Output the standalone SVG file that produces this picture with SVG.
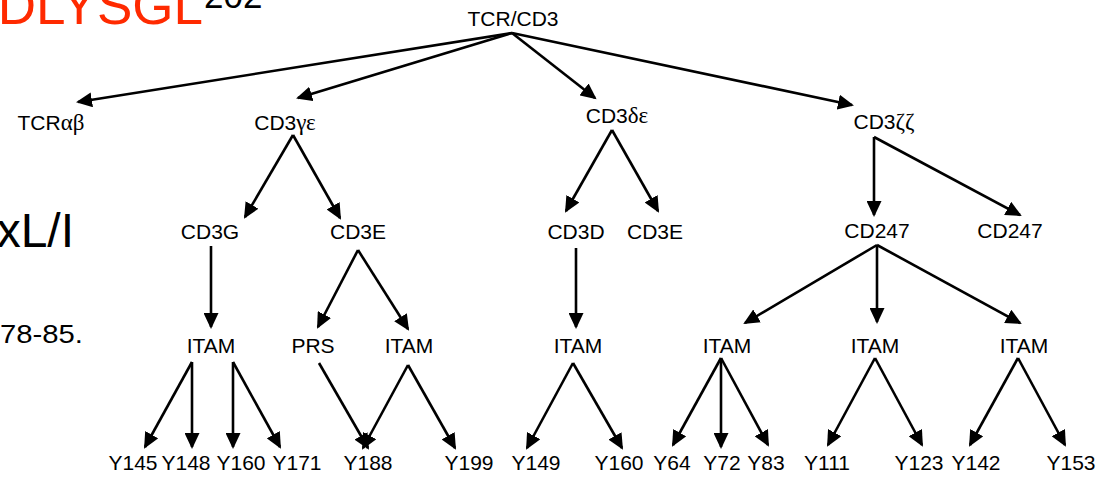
<svg xmlns="http://www.w3.org/2000/svg" width="1110" height="479" viewBox="0 0 1110 479">
  <style>
    .lbl { font-family: "Liberation Sans", Arial, Helvetica, sans-serif; font-size: 21px; fill: #000; text-anchor: middle; }
    .gr { font-family: "Liberation Serif", "Times New Roman", serif; font-size: 23px; }
    .edge { stroke: #000; stroke-width: 2.6; fill: none; marker-end: url(#arrow); }
    .side { font-family: "Liberation Sans", Arial, Helvetica, sans-serif; fill: #000; text-anchor: end; }
  </style>
  <defs>
    <marker id="arrow" markerUnits="userSpaceOnUse" markerWidth="17" markerHeight="15" refX="14" refY="7.5" orient="auto">
      <path d="M0,0 L16,7.5 L0,15 Z" fill="#000"/>
    </marker>
  </defs>

  <rect x="0" y="0" width="1110" height="479" fill="#fff"/>

  <!-- margin fragments -->
  <g id="margin-text">
    <text class="side" x="203" y="24" font-size="53" style="fill:#ff2a00">DLYSGL</text>
    <text class="side" x="204" y="8" font-size="35" style="text-anchor:start">202</text>
    <text class="side" x="74" y="247" font-size="48">xL/I</text>
    <text class="side" x="0" y="343" font-size="25" style="text-anchor:start" textLength="83" lengthAdjust="spacingAndGlyphs">78-85.</text>
  </g>

  <!-- connectors -->
  <g id="connectors">
    <!-- TCR/CD3 -->
    <line class="edge" x1="512" y1="33" x2="78" y2="102"/>
    <line class="edge" x1="512" y1="33" x2="298" y2="98"/>
    <line class="edge" x1="512" y1="33" x2="595" y2="98"/>
    <line class="edge" x1="512" y1="33" x2="852" y2="105"/>
    <!-- CD3 gamma epsilon -->
    <line class="edge" x1="293" y1="135" x2="245" y2="217"/>
    <line class="edge" x1="293" y1="135" x2="340" y2="218"/>
    <!-- CD3 delta epsilon -->
    <line class="edge" x1="612" y1="130" x2="566" y2="211"/>
    <line class="edge" x1="612" y1="130" x2="658" y2="211"/>
    <!-- CD3 zeta zeta -->
    <line class="edge" x1="874" y1="137" x2="874" y2="215"/>
    <line class="edge" x1="874" y1="137" x2="1020" y2="215"/>
    <!-- second tier -->
    <line class="edge" x1="211" y1="246" x2="211" y2="327"/>
    <line class="edge" x1="358" y1="250" x2="318" y2="327"/>
    <line class="edge" x1="358" y1="250" x2="408" y2="329"/>
    <line class="edge" x1="576" y1="248" x2="576" y2="327"/>
    <line class="edge" x1="877" y1="245" x2="745" y2="323"/>
    <line class="edge" x1="877" y1="245" x2="877" y2="322"/>
    <line class="edge" x1="877" y1="245" x2="1020" y2="323"/>
    <!-- third tier -->
    <line class="edge" x1="192" y1="362" x2="145" y2="447"/>
    <line class="edge" x1="192" y1="362" x2="192" y2="447"/>
    <line class="edge" x1="233" y1="362" x2="233" y2="447"/>
    <line class="edge" x1="233" y1="362" x2="280" y2="447"/>
    <line class="edge" x1="319" y1="363" x2="368" y2="448"/>
    <line class="edge" x1="408" y1="365" x2="363" y2="448"/>
    <line class="edge" x1="408" y1="365" x2="455" y2="448"/>
    <line class="edge" x1="573" y1="363" x2="527" y2="448"/>
    <line class="edge" x1="573" y1="363" x2="622" y2="448"/>
    <line class="edge" x1="721" y1="358" x2="673" y2="445"/>
    <line class="edge" x1="721" y1="358" x2="721" y2="447"/>
    <line class="edge" x1="721" y1="358" x2="768" y2="445"/>
    <line class="edge" x1="875" y1="358" x2="828" y2="445"/>
    <line class="edge" x1="875" y1="358" x2="922" y2="445"/>
    <line class="edge" x1="1018" y1="358" x2="970" y2="445"/>
    <line class="edge" x1="1018" y1="358" x2="1065" y2="445"/>
  </g>

  <!-- nodes -->
  <g id="n-tcrcd3"><text class="lbl" x="513" y="26">TCR/CD3</text></g>

  <g id="n-tcrab"><text class="lbl" x="51" y="130">TCR<tspan class="gr">αβ</tspan></text></g>
  <g id="n-cd3ge"><text class="lbl" x="285" y="130">CD3<tspan class="gr">γε</tspan></text></g>
  <g id="n-cd3de"><text class="lbl" x="617" y="123">CD3<tspan class="gr">δε</tspan></text></g>
  <g id="n-cd3zz"><text class="lbl" x="884" y="129">CD3<tspan class="gr">ζζ</tspan></text></g>

  <g id="n-cd3g"><text class="lbl" x="210" y="239">CD3G</text></g>
  <g id="n-cd3e-1"><text class="lbl" x="358" y="239">CD3E</text></g>
  <g id="n-cd3d"><text class="lbl" x="576" y="239">CD3D</text></g>
  <g id="n-cd3e-2"><text class="lbl" x="655" y="239">CD3E</text></g>
  <g id="n-cd247-1"><text class="lbl" x="877" y="238">CD247</text></g>
  <g id="n-cd247-2"><text class="lbl" x="1010" y="238">CD247</text></g>

  <g id="n-itam-g"><text class="lbl" x="211" y="353">ITAM</text></g>
  <g id="n-prs"><text class="lbl" x="313" y="353">PRS</text></g>
  <g id="n-itam-e"><text class="lbl" x="409" y="353">ITAM</text></g>
  <g id="n-itam-d"><text class="lbl" x="578" y="353">ITAM</text></g>
  <g id="n-itam-z1"><text class="lbl" x="727" y="353">ITAM</text></g>
  <g id="n-itam-z2"><text class="lbl" x="875" y="353">ITAM</text></g>
  <g id="n-itam-z3"><text class="lbl" x="1024" y="353">ITAM</text></g>

  <g id="n-y145"><text class="lbl" x="133" y="470">Y145</text></g>
  <g id="n-y148"><text class="lbl" x="186" y="470">Y148</text></g>
  <g id="n-y160a"><text class="lbl" x="241" y="470">Y160</text></g>
  <g id="n-y171"><text class="lbl" x="297" y="470">Y171</text></g>
  <g id="n-y188"><text class="lbl" x="368" y="470">Y188</text></g>
  <g id="n-y199"><text class="lbl" x="469" y="470">Y199</text></g>
  <g id="n-y149"><text class="lbl" x="536" y="470">Y149</text></g>
  <g id="n-y160b"><text class="lbl" x="619" y="470">Y160</text></g>
  <g id="n-y64"><text class="lbl" x="672" y="470">Y64</text></g>
  <g id="n-y72"><text class="lbl" x="722" y="470">Y72</text></g>
  <g id="n-y83"><text class="lbl" x="766" y="470">Y83</text></g>
  <g id="n-y111"><text class="lbl" x="827" y="470">Y111</text></g>
  <g id="n-y123"><text class="lbl" x="919" y="470">Y123</text></g>
  <g id="n-y142"><text class="lbl" x="976" y="470">Y142</text></g>
  <g id="n-y153"><text class="lbl" x="1071" y="470">Y153</text></g>
</svg>
